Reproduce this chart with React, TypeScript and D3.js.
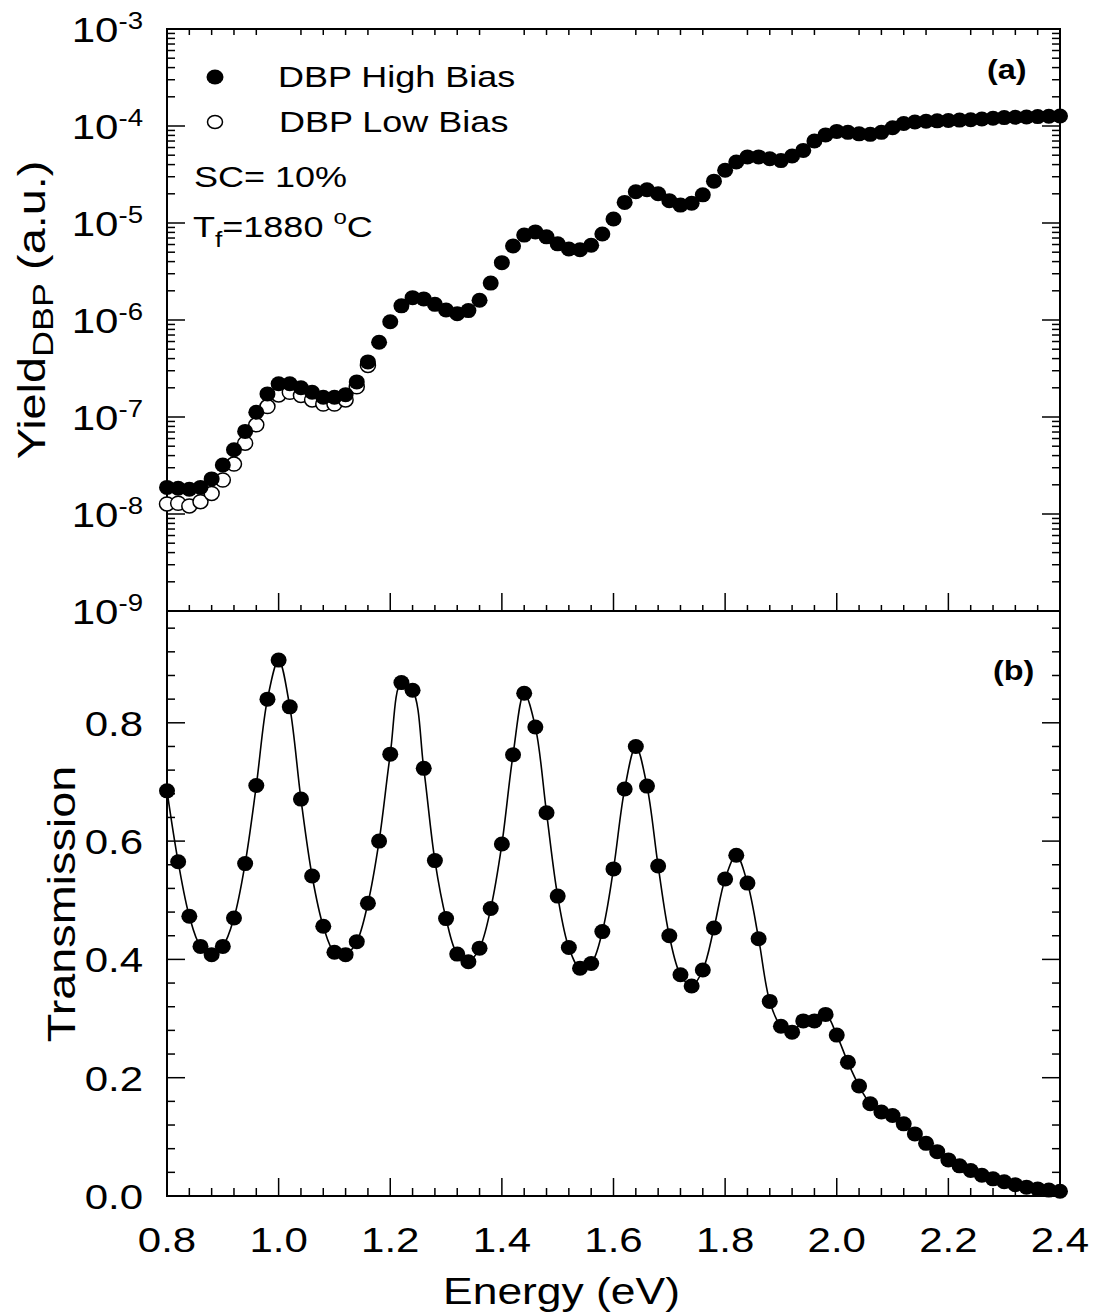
import React from "react";
import * as d3 from "d3";

// ---------- data ----------
const energy = [
  0.8, 0.82, 0.84, 0.86, 0.88, 0.9, 0.92, 0.94, 0.96, 0.98,
  1.0, 1.02, 1.04, 1.06, 1.08, 1.1, 1.12, 1.14, 1.16, 1.18,
  1.2, 1.22, 1.24, 1.26, 1.28, 1.3, 1.32, 1.34, 1.36, 1.38,
  1.4, 1.42, 1.44, 1.46, 1.48, 1.5, 1.52, 1.54, 1.56, 1.58,
  1.6, 1.62, 1.64, 1.66, 1.68, 1.7, 1.72, 1.74, 1.76, 1.78,
  1.8, 1.82, 1.84, 1.86, 1.88, 1.9, 1.92, 1.94, 1.96, 1.98,
  2.0, 2.02, 2.04, 2.06, 2.08, 2.1, 2.12, 2.14, 2.16, 2.18,
  2.2, 2.22, 2.24, 2.26, 2.28, 2.3, 2.32, 2.34, 2.36, 2.38,
  2.4,
];

const highBias = [
  1.88e-8, 1.84e-8, 1.8e-8, 1.88e-8, 2.3e-8, 3.2e-8, 4.6e-8, 7.1e-8, 1.12e-7, 1.73e-7,
  2.2e-7, 2.2e-7, 2.0e-7, 1.8e-7, 1.6e-7, 1.6e-7, 1.7e-7, 2.3e-7, 3.7e-7, 5.9e-7,
  9.6e-7, 1.4e-6, 1.7e-6, 1.65e-6, 1.45e-6, 1.27e-6, 1.16e-6, 1.25e-6, 1.6e-6, 2.4e-6,
  3.9e-6, 5.8e-6, 7.5e-6, 8.1e-6, 7.2e-6, 6.1e-6, 5.4e-6, 5.3e-6, 5.9e-6, 7.7e-6,
  1.1e-5, 1.63e-5, 2.1e-5, 2.2e-5, 2.0e-5, 1.7e-5, 1.53e-5, 1.6e-5, 1.95e-5, 2.7e-5,
  3.5e-5, 4.25e-5, 4.8e-5, 4.8e-5, 4.6e-5, 4.4e-5, 4.9e-5, 5.6e-5, 7.0e-5, 8.1e-5,
  8.8e-5, 8.6e-5, 8.3e-5, 8.2e-5, 8.6e-5, 9.6e-5, 1.06e-4, 1.1e-4, 1.12e-4, 1.13e-4,
  1.14e-4, 1.15e-4, 1.16e-4, 1.18e-4, 1.2e-4, 1.22e-4, 1.23e-4, 1.24e-4, 1.25e-4, 1.26e-4,
  1.27e-4,
];

const lowBiasEnergy = [0.8, 0.82, 0.84, 0.86, 0.88, 0.9, 0.92, 0.94, 0.96, 0.98, 1.0, 1.02, 1.04, 1.06, 1.08, 1.1, 1.12, 1.14, 1.16];
const lowBias = [
  1.27e-8, 1.29e-8, 1.21e-8, 1.34e-8, 1.63e-8, 2.24e-8, 3.27e-8, 5.37e-8, 8.3e-8, 1.28e-7,
  1.69e-7, 1.8e-7, 1.67e-7, 1.5e-7, 1.36e-7, 1.36e-7, 1.5e-7, 2.05e-7, 3.4e-7,
];

const transmission = [
  0.685, 0.565, 0.473, 0.422, 0.408, 0.422, 0.47, 0.562, 0.694, 0.84,
  0.906, 0.827, 0.671, 0.541, 0.456, 0.412, 0.408, 0.43, 0.495, 0.6,
  0.747, 0.868, 0.855, 0.723, 0.567, 0.469, 0.409, 0.396, 0.419, 0.486,
  0.595, 0.746, 0.85, 0.793, 0.648, 0.507, 0.42, 0.385, 0.393, 0.447,
  0.553, 0.688, 0.76, 0.693, 0.558, 0.44, 0.374, 0.355, 0.382, 0.453,
  0.536, 0.576, 0.529, 0.435, 0.329, 0.287, 0.277, 0.296, 0.296, 0.307,
  0.272, 0.226, 0.186, 0.156, 0.142, 0.136, 0.122, 0.105, 0.089, 0.075,
  0.061, 0.051, 0.043, 0.035, 0.029, 0.024, 0.019, 0.015, 0.012, 0.01,
  0.008,
];

const xTicks = [0.8, 1.0, 1.2, 1.4, 1.6, 1.8, 2.0, 2.2, 2.4];
const xTickLabels = ["0.8", "1.0", "1.2", "1.4", "1.6", "1.8", "2.0", "2.2", "2.4"];
const yTopExponents = [-3, -4, -5, -6, -7, -8, -9];
const yBotTicks = [0, 0.2, 0.4, 0.6, 0.8];
const yBotLabels = ["0.0", "0.2", "0.4", "0.6", "0.8"];

// ---------- layout ----------
const W = 1096;
const H = 1316;
const L = 167;
const R = 1060;
const T1 = 29;
const B1 = 611;
const B2 = 1196;
const SX = 1.2;
const FONT = "'Liberation Sans', Arial, Helvetica, sans-serif";
const MAJ = 18;
const MIN = 8;

export default function App() {
  const x = d3.scaleLinear().domain([0.8, 2.4]).range([L, R]);
  const yTop = d3.scaleLog().domain([1e-9, 1e-3]).range([B1, T1]);
  const yBot = d3.scaleLinear().domain([0, 1]).range([B2, B2 - 591.5]);

  const xMinor = d3
    .range(0, 41)
    .map((i) => 0.8 + i * 0.04)
    .filter((v) => Math.abs((v - 0.8) / 0.2 - Math.round((v - 0.8) / 0.2)) > 1e-6);

  const logMinor: number[] = [];
  for (let d = -9; d <= -4; d++) for (let m = 2; m <= 9; m++) logMinor.push(m * Math.pow(10, d));

  const botMinor = d3
    .range(0, 25)
    .map((i) => i * 0.04)
    .filter((v) => Math.abs(v / 0.2 - Math.round(v / 0.2)) > 1e-6 && yBot(v) > B1 + 1);

  const line = d3
    .line<number>()
    .x((_, i) => x(energy[i]))
    .y((d) => yBot(d))
    .curve(d3.curveCatmullRom.alpha(0.5));

  const tickStroke = { stroke: "#000", strokeWidth: 1.5 };

  return (
    <svg
      width={W}
      height={H}
      viewBox={`0 0 ${W} ${H}`}
      style={{ position: "absolute", left: 0, top: 0, display: "block", background: "#fff" }}
      fontFamily={FONT}
    >
      <rect x={0} y={0} width={W} height={H} fill="#fff" />

      {/* ---------- ticks: top panel ---------- */}
      {/* bottom edge of top panel */}
      {xTicks.map((t) => (
        <line key={"tpb" + t} x1={x(t)} x2={x(t)} y1={B1} y2={B1 - MAJ} {...tickStroke} />
      ))}
      {xMinor.map((t, i) => (
        <line key={"tpbm" + i} x1={x(t)} x2={x(t)} y1={B1} y2={B1 - 6} {...tickStroke} />
      ))}
      {/* top edge: minors only */}
      {xMinor.map((t, i) => (
        <line key={"tpt" + i} x1={x(t)} x2={x(t)} y1={T1} y2={T1 + 6} {...tickStroke} />
      ))}
      {/* left/right */}
      {yTopExponents.map((e) => (
        <g key={"ytm" + e}>
          <line x1={L} x2={L + MAJ} y1={yTop(Math.pow(10, e))} y2={yTop(Math.pow(10, e))} {...tickStroke} />
          <line x1={R} x2={R - MAJ} y1={yTop(Math.pow(10, e))} y2={yTop(Math.pow(10, e))} {...tickStroke} />
        </g>
      ))}
      {logMinor.map((v, i) => (
        <g key={"ytn" + i}>
          <line x1={L} x2={L + MIN} y1={yTop(v)} y2={yTop(v)} {...tickStroke} />
          <line x1={R} x2={R - MIN} y1={yTop(v)} y2={yTop(v)} {...tickStroke} />
        </g>
      ))}

      {/* ---------- ticks: bottom panel ---------- */}
      {xTicks.map((t) => (
        <line key={"bpb" + t} x1={x(t)} x2={x(t)} y1={B2} y2={B2 - MAJ} {...tickStroke} />
      ))}
      {xMinor.map((t, i) => (
        <line key={"bpbm" + i} x1={x(t)} x2={x(t)} y1={B2} y2={B2 - MIN} {...tickStroke} />
      ))}
      {yBotTicks.map((t) => (
        <g key={"ybm" + t}>
          <line x1={L} x2={L + MAJ} y1={yBot(t)} y2={yBot(t)} {...tickStroke} />
          <line x1={R} x2={R - MAJ} y1={yBot(t)} y2={yBot(t)} {...tickStroke} />
        </g>
      ))}
      {botMinor.map((t, i) => (
        <g key={"ybn" + i}>
          <line x1={L} x2={L + MIN} y1={yBot(t)} y2={yBot(t)} {...tickStroke} />
          <line x1={R} x2={R - MIN} y1={yBot(t)} y2={yBot(t)} {...tickStroke} />
        </g>
      ))}

      {/* ---------- frames ---------- */}
      <rect x={L} y={T1} width={R - L} height={B1 - T1} fill="none" stroke="#000" strokeWidth={2} />
      <rect x={L} y={B1} width={R - L} height={B2 - B1} fill="none" stroke="#000" strokeWidth={2} />

      {/* ---------- top panel data ---------- */}
      {lowBias.map((v, i) => (
        <ellipse
          key={"lb" + i}
          cx={x(lowBiasEnergy[i])}
          cy={yTop(v)}
          rx={7.5}
          ry={7}
          fill="#fff"
          stroke="#000"
          strokeWidth={1.5}
        />
      ))}
      {highBias.map((v, i) => (
        <ellipse key={"hb" + i} cx={x(energy[i])} cy={yTop(v)} rx={8} ry={7.5} fill="#000" />
      ))}

      {/* ---------- bottom panel data ---------- */}
      <path d={line(transmission) || ""} fill="none" stroke="#000" strokeWidth={1.6} />
      {transmission.map((v, i) => (
        <ellipse key={"tr" + i} cx={x(energy[i])} cy={yBot(v)} rx={8} ry={7.5} fill="#000" />
      ))}

      {/* ---------- tick labels ---------- */}
      {xTicks.map((t, i) => (
        <text
          key={"xl" + t}
          transform={`translate(${x(t)},1252) scale(${SX},1)`}
          textAnchor="middle"
          fontSize={35}
        >
          {xTickLabels[i]}
        </text>
      ))}
      {yTopExponents.map((e) => (
        <text
          key={"yl" + e}
          transform={`translate(143,${yTop(Math.pow(10, e)) + 13}) scale(${SX},1)`}
          textAnchor="end"
          fontSize={35}
        >
          <tspan>10</tspan>
          <tspan fontSize={23} dy={-13}>
            {String(e)}
          </tspan>
        </text>
      ))}
      {yBotTicks.map((t, i) => (
        <text
          key={"ybl" + t}
          transform={`translate(143,${yBot(t) + 13}) scale(${SX},1)`}
          textAnchor="end"
          fontSize={35}
        >
          {yBotLabels[i]}
        </text>
      ))}

      {/* ---------- axis titles ---------- */}
      <text transform={`translate(${(L + R) / 2 - 52},1304) scale(${SX},1)`} textAnchor="middle" fontSize={37}>
        Energy (eV)
      </text>
      <text transform={`translate(45,310) rotate(-90) scale(${SX},1)`} textAnchor="middle" fontSize={39}>
        <tspan>Yield</tspan>
        <tspan fontSize={30} dy={8}>
          DBP
        </tspan>
        <tspan dy={-8}> (a.u.)</tspan>
      </text>
      <text transform={`translate(75,904) rotate(-90) scale(${SX},1)`} textAnchor="middle" fontSize={39}>
        Transmission
      </text>

      {/* ---------- legend & annotations ---------- */}
      <ellipse cx={215} cy={77} rx={8.5} ry={7.5} fill="#000" />
      <ellipse cx={215} cy={122} rx={7.5} ry={6.5} fill="#fff" stroke="#000" strokeWidth={1.5} />
      <text transform={`translate(278,87) scale(${SX},1)`} fontSize={30}>
        DBP High Bias
      </text>
      <text transform={`translate(279,132) scale(${SX},1)`} fontSize={30}>
        DBP Low Bias
      </text>
      <text transform={`translate(194,187) scale(${SX},1)`} fontSize={30}>
        SC= 10%
      </text>
      <text transform={`translate(193,237) scale(${SX},1)`} fontSize={30}>
        <tspan>T</tspan>
        <tspan fontSize={22} dy={10}>
          f
        </tspan>
        <tspan dy={-10}>=1880 </tspan>
        <tspan fontSize={20} dy={-13}>
          o
        </tspan>
        <tspan dy={13}>C</tspan>
      </text>
      <text transform={`translate(987,79) scale(${SX},1)`} fontSize={27} fontWeight="bold">
        (a)
      </text>
      <text transform={`translate(993,680) scale(${SX},1)`} fontSize={27} fontWeight="bold">
        (b)
      </text>
    </svg>
  );
}
